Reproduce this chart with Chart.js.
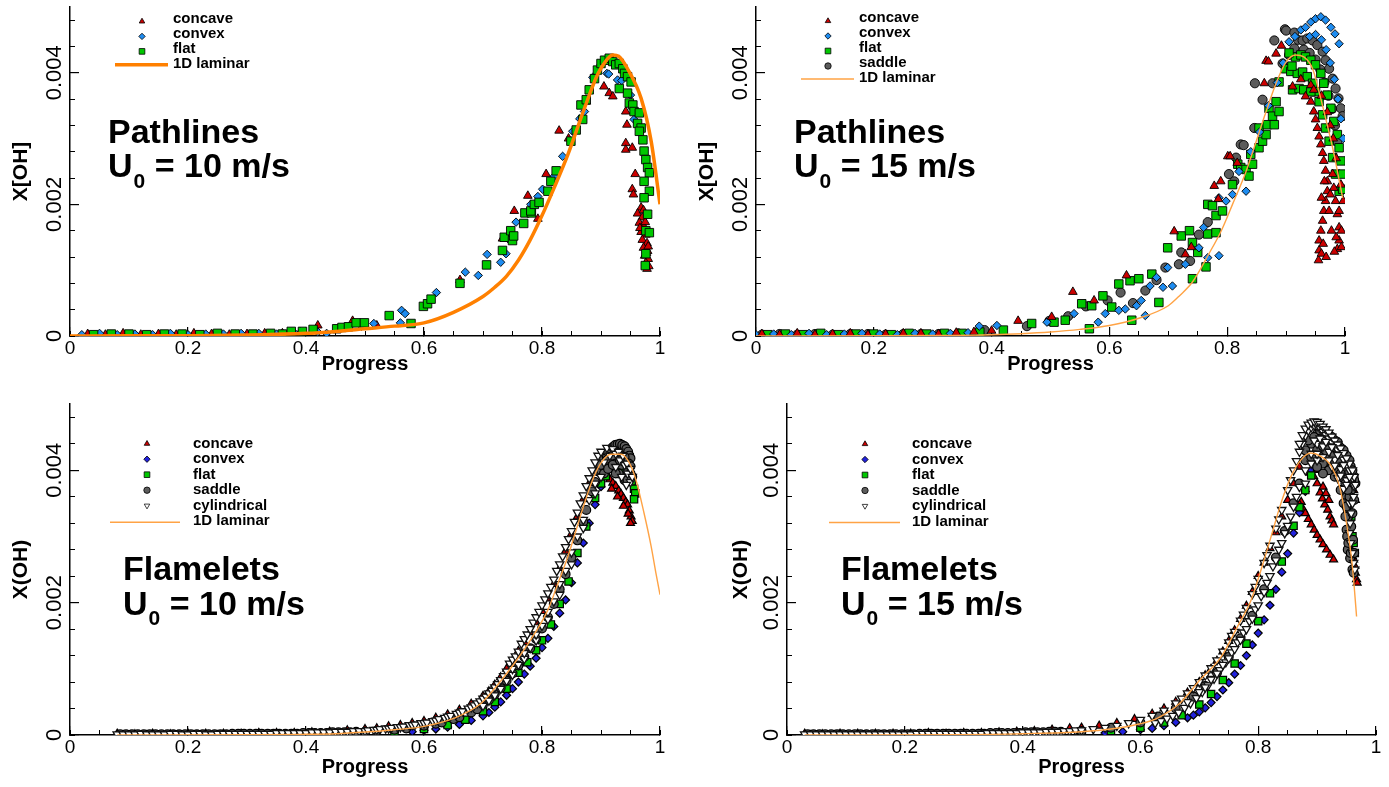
<!DOCTYPE html>
<html>
<head>
<meta charset="utf-8">
<title>X(OH) vs progress</title>
<script src="https://cdn.jsdelivr.net/npm/chart.js@4.4.1/dist/chart.umd.min.js"></script>
<style>
  html, body { margin: 0; padding: 0; background: #fff; }
  canvas { position: absolute; }
</style>
</head>
<body>
<canvas id="pathlines10" width="690" height="392" style="left:0;top:0"></canvas>
<canvas id="pathlines15" width="699" height="392" style="left:690px;top:0"></canvas>
<canvas id="flamelets10" width="690" height="392" style="left:0;top:395px"></canvas>
<canvas id="flamelets15" width="699" height="392" style="left:690px;top:395px"></canvas>
<script>
const FONT = "'Liberation Sans', Arial, Helvetica, sans-serif";
const OH_UNIT = 1e-4; // y values below are X(OH) in units of 1e-4

const X_TICKS = [0, 0.2, 0.4, 0.6, 0.8, 1];
const X_MINOR = [0, 0.05, 0.1, 0.15, 0.2, 0.25, 0.3, 0.35, 0.4, 0.45, 0.5, 0.55, 0.6, 0.65, 0.7, 0.75, 0.8, 0.85, 0.9, 0.95, 1];
const Y_TICKS = [0, 0.002, 0.004];
const Y_MINOR = [0, 0.0004, 0.0008, 0.0012, 0.0016, 0.002, 0.0024, 0.0028, 0.0032, 0.0036, 0.004, 0.0044, 0.0048];
const Y_MAX = 0.005;

// ---- Pathlines, U0 = 10 m/s ----
const P10_CONCAVE = [
  [0.03,0.3],[0.06,0.2],[0.09,0.4],[0.12,0.2],[0.15,0.3],[0.18,0.2],[0.21,0.4],[0.24,0.3],[0.27,0.2],[0.30,0.3],[0.33,0.4],[0.36,0.4],[0.39,0.6],
  [0.42,1.6],[0.479,2.3],[0.52,1.6],[0.661,8.5],[0.733,14.8],[0.753,19],[0.776,21.3],[0.793,17.8],[0.807,24.6],[0.829,31.2],[0.845,30],
  [0.875,35.6],[0.903,41.7],[0.905,37.9],[0.914,36.9],[0.92,36.4],[0.942,34.1],[0.944,32.1],[0.942,29.3],[0.942,28.3],[0.953,28.6],
  [0.958,24.6],[0.953,22.3],[0.955,21.5],[0.968,19.5],[0.962,18.6],[0.97,18.0],[0.965,17.2],[0.973,16.6],[0.968,15.8],[0.976,15.4],
  [0.97,14.6],[0.978,14.1],[0.972,13.4],[0.979,12.9],[0.974,12.2],[0.98,11.7],[0.976,11.1],[0.981,10.6],[0.978,10.2],[0.966,16.4],
  [0.975,17.3],[0.977,12.6],[0.972,19.1],[0.98,13.6]
];
const P10_CONVEX = [
  [0.02,0.2],[0.05,0.4],[0.08,0.2],[0.11,0.3],[0.14,0.2],[0.17,0.4],[0.20,0.2],[0.23,0.3],[0.26,0.3],[0.29,0.4],[0.32,0.4],[0.35,0.3],[0.38,0.5],
  [0.42,0.6],[0.435,0.4],[0.494,1.5],[0.515,1.9],[0.56,2.0],[0.562,3.9],[0.568,3.4],[0.621,6.6],[0.67,9.7],[0.692,9.2],[0.707,12.4],
  [0.73,11.2],[0.739,12.5],[0.742,14.8],[0.756,17.3],[0.781,20.0],[0.793,21.2],[0.801,22.3],[0.821,24.3],[0.835,27.3],[0.852,31.1],
  [0.864,33],[0.872,34.1],[0.886,39.3],[0.9,41.2],[0.91,39.9],[0.913,39.8],[0.928,38.9],[0.935,38.8],[0.95,36.6],[0.956,32.9]
];
const P10_FLAT = [
  [0.04,0.2],[0.07,0.3],[0.10,0.3],[0.13,0.2],[0.16,0.3],[0.19,0.3],[0.22,0.2],[0.25,0.4],[0.28,0.3],[0.31,0.3],[0.34,0.4],[0.36,0.3],
  [0.375,0.7],[0.394,0.7],[0.412,1.0],[0.452,1.1],[0.461,1.3],[0.472,1.4],[0.485,2.0],[0.499,2.0],[0.541,3.1],[0.578,1.9],[0.599,4.5],
  [0.606,4.9],[0.612,5.6],[0.661,8.0],[0.706,10.8],[0.733,13.0],[0.736,15],[0.747,16],[0.75,14.5],[0.752,15.2],[0.769,17.1],[0.771,18.7],
  [0.782,18.7],[0.781,19],[0.787,20],[0.795,20.3],[0.81,22],[0.815,23.5],[0.824,25.1],[0.849,29.6],[0.858,31.3],[0.866,35.1],[0.869,32.9],
  [0.875,35.9],[0.88,37.4],[0.889,39.1],[0.894,40.4],[0.9,41.4],[0.906,41.9],[0.914,42.2],[0.92,41.7],[0.925,41.2],[0.931,41.4],
  [0.937,40.6],[0.94,39.9],[0.945,39.4],[0.951,38.6],[0.931,37.6],[0.945,36.9],[0.948,35.4],[0.954,35.1],[0.956,34.1],[0.965,33.9],
  [0.962,32.3],[0.968,31.6],[0.965,31.1],[0.971,29.8],[0.973,28.1],[0.976,26.8],[0.979,25.6],[0.982,24.8],[0.973,23.5],[0.982,22],
  [0.973,21],[0.979,18.5],[0.976,16],[0.982,15.7],[0.976,12.5],[0.975,10.7]
];
const P10_LAMINAR = [
  [0,0],[0.1,0.02],[0.2,0.05],[0.3,0.15],[0.4,0.4],[0.45,0.7],[0.5,1.1],[0.55,1.5],[0.6,2.0],[0.65,3.6],[0.7,6.0],[0.72,7.4],
  [0.74,9.1],[0.76,11.5],[0.78,14.6],[0.8,18.3],[0.82,22.4],[0.844,27.6],[0.872,34.6],[0.894,39.7],[0.91,42],[0.92,42.7],[0.93,42.5],
  [0.945,40.6],[0.968,36.1],[0.985,29.6],[1,20]
];

// ---- Pathlines, U0 = 15 m/s ----
const P15_CONCAVE = [
  [0.01,0.3],[0.04,0.2],[0.07,0.4],[0.10,0.2],[0.13,0.3],[0.16,0.4],[0.19,0.2],[0.22,0.3],[0.25,0.4],[0.28,0.4],[0.31,0.3],[0.34,0.5],[0.37,0.6],[0.40,0.8],
  [0.445,2.3],[0.502,2.9],[0.538,6.7],[0.574,5.4],[0.629,9.2],[0.71,15.9],[0.729,12.4],[0.739,13.5],[0.778,22.8],[0.785,20.8],[0.789,23.5],
  [0.801,27.3],[0.805,27.3],[0.817,26.3],[0.863,38.4],[0.866,41.8],[0.87,41.7],[0.883,42.9],[0.892,44.1],[0.911,37.9],[0.925,39],
  [0.942,38.1],[0.947,37.4],[0.933,36.4],[0.942,35.6],[0.947,34.1],[0.95,32.9],[0.953,31.6],[0.956,30.3],[0.959,29.1],[0.962,27.8],
  [0.964,26.6],[0.967,25.1],[0.97,23.5],[0.97,22.0],[0.967,20.5],[0.964,19.0],[0.962,17.5],[0.959,16.0],[0.956,14.5],[0.956,13.0],
  [0.955,11.5],[0.979,24.6],[0.981,22.5],[0.984,20.5],[0.987,18.5],[0.99,16.5],[0.99,14.5],[0.987,13.2],[0.994,13.5],[0.994,16],
  [0.997,20.5],[0.993,23],[0.985,27],[0.98,30],[0.975,32],[0.97,34],[0.96,36.5],[0.96,21],[0.965,23.5],[0.973,19],[0.977,16],
  [0.963,14],[0.96,12.5],[0.982,12.8],[0.975,21.5],[0.985,15],[0.968,12],[0.99,19]
];
const P15_CONVEX = [
  [0.00,0.2],[0.03,0.3],[0.06,0.2],[0.09,0.4],[0.12,0.2],[0.15,0.3],[0.18,0.4],[0.21,0.3],[0.24,0.2],[0.27,0.4],[0.30,0.3],[0.33,0.4],[0.36,0.5],
  [0.379,1.5],[0.409,1.6],[0.494,2.1],[0.54,3.4],[0.581,2.1],[0.593,3.4],[0.616,3.9],[0.627,4.1],[0.646,4.6],[0.654,5.4],[0.661,3.1],
  [0.669,7.6],[0.68,8.9],[0.691,7.4],[0.699,10.4],[0.707,7.6],[0.729,10.9],[0.752,13.4],[0.76,16.5],[0.767,11.9],[0.786,12.2],[0.786,21],
  [0.798,20.5],[0.809,21.5],[0.832,22.0],[0.82,25],[0.84,28],[0.855,31],[0.87,35],[0.885,38.5],[0.895,41.5],[0.905,44.7],[0.915,45.5],
  [0.925,46.5],[0.933,46.9],[0.942,47.7],[0.95,48.2],[0.959,48.5],[0.967,48.0],[0.976,46.9],[0.983,45.9],[0.99,44.4],
  [0.94,45.5],[0.95,45.8],[0.96,45],[0.968,43.5],[0.975,41.5],[0.982,39],[0.988,36],[0.993,33],[0.997,30]
];
const P15_FLAT = [
  [0.02,0.2],[0.05,0.3],[0.08,0.2],[0.11,0.4],[0.14,0.2],[0.17,0.3],[0.20,0.3],[0.23,0.2],[0.26,0.4],[0.29,0.3],[0.32,0.4],[0.35,0.4],[0.38,0.6],[0.42,0.9],
  [0.468,1.9],[0.506,2.1],[0.525,2.4],[0.553,4.9],[0.566,1.1],[0.57,4.6],[0.589,6.1],[0.604,4.4],[0.616,7.9],[0.635,8.4],[0.638,2.4],
  [0.65,8.7],[0.672,9.4],[0.684,5.1],[0.699,13.4],[0.722,15.2],[0.736,16],[0.741,14.2],[0.741,8.7],[0.75,12.7],[0.764,10.5],
  [0.767,15.5],[0.767,20],[0.775,19.8],[0.781,18.3],[0.781,15.7],[0.792,19],[0.809,23],[0.818,26.1],[0.823,25.6],[0.832,25.3],
  [0.837,24.3],[0.84,27.6],[0.843,26.1],[0.854,28.6],[0.854,31.6],[0.86,29.6],[0.866,30.6],[0.868,32.1],[0.871,34.6],[0.877,33.4],
  [0.88,32.1],[0.883,35.6],[0.888,34.1],[0.888,38.6],[0.899,40.6],[0.908,40.2],[0.919,39.9],[0.928,40.1],[0.936,39.4],[0.945,38.4],
  [0.95,37.1],[0.956,35.6],[0.962,33.6],[0.967,31.6],[0.973,29.6],[0.979,27.1],[0.984,24.6],[0.99,22.0],[0.916,42.4],[0.925,42.7],
  [0.933,42.4],[0.942,41.9],[0.95,41.2],[0.959,39.9],[0.964,38.4],[0.97,36.6],[0.976,34.6],[0.981,32.6],[0.987,30.6],[0.99,28.6],
  [0.993,26.6],[0.996,24.6],[0.996,22.3],[0.911,37.4],[0.922,37.6],[0.93,37.4],[0.942,37.1],[0.905,43],[0.91,41]
];
const P15_SADDLE = [
  [0.01,0.2],[0.04,0.3],[0.07,0.2],[0.10,0.3],[0.13,0.2],[0.16,0.3],[0.19,0.3],[0.22,0.2],[0.25,0.3],[0.28,0.3],[0.31,0.3],[0.343,0.4],[0.388,0.9],
  [0.46,1.5],[0.498,2.3],[0.53,3],[0.56,4.5],[0.597,5.4],[0.619,6.6],[0.64,5],[0.661,6.9],[0.68,8.5],[0.695,10.4],[0.718,10.9],
  [0.722,12.7],[0.737,11.4],[0.752,15.4],[0.767,17.3],[0.803,24.6],[0.812,23.5],[0.815,27.1],[0.823,29.1],[0.828,29],[0.846,31.6],
  [0.847,38.4],[0.86,35.9],[0.877,38.4],[0.88,44.9],[0.894,41.4],[0.898,46.6],[0.9,46.4],[0.905,42.7],[0.914,43.7],[0.914,46.1],
  [0.92,45],[0.928,44.9],[0.936,45.2],[0.945,44.9],[0.953,44.2],[0.962,43.2],[0.967,41.9],[0.973,40.6],[0.979,39.1],[0.984,37.6],
  [0.989,36.1],[0.993,34.6],[0.996,33.4],[0.93,43.5],[0.94,43],[0.95,42],[0.958,40.5],[0.965,38.5],[0.972,36.5],[0.978,34.5],[0.983,32],[0.987,29.5]
];
const P15_LAMINAR = [
  [0,0],[0.2,0.03],[0.3,0.08],[0.4,0.2],[0.45,0.35],[0.5,0.6],[0.55,1.0],[0.6,1.6],[0.65,2.7],[0.7,4.6],[0.72,6.2],[0.741,8.2],[0.769,12.5],
  [0.79,16],[0.809,20],[0.832,25],[0.849,29.5],[0.863,33.3],[0.883,38.4],[0.899,41.5],[0.916,42.7],[0.93,42.4],[0.945,40.6],
  [0.956,37.1],[0.967,33.1],[0.979,28.6],[0.987,25.1],[0.996,21]
];

// ---- Flamelets, U0 = 10 m/s ----
const F10_CONCAVE = [
  [0.08,0.2],[0.11,0.1],[0.14,0.2],[0.17,0.1],[0.20,0.2],[0.23,0.2],[0.26,0.2],[0.29,0.2],[0.32,0.3],[0.35,0.3],[0.38,0.3],[0.41,0.4],[0.44,0.5],[0.47,0.7],
  [0.5,0.9],[0.52,1.0],[0.54,1.3],[0.56,1.5],[0.58,1.8],[0.6,2.1],[0.62,2.6],[0.64,3.1],[0.66,3.8],[0.68,4.7],[0.7,5.9],[0.71,6.6],
  [0.72,7.6],[0.73,8.7],[0.74,10],[0.75,11.2],[0.76,12.7],[0.77,14],[0.78,15.5],[0.79,17],[0.8,18.7],[0.81,20.6],[0.82,22.8],[0.83,25.2],
  [0.84,27.8],[0.85,30.4],[0.86,33],[0.87,35.6],[0.88,38],[0.89,39.8],[0.9,40.5],[0.905,39.8],[0.91,39.4],[0.915,38.6],[0.92,38.1],
  [0.925,37.6],[0.93,36.9],[0.934,36.4],[0.938,35.8],[0.942,35.2],[0.945,34.8],[0.948,33.9],[0.951,33],[0.953,32.3],[0.918,37.2],
  [0.928,36],[0.938,34.6],[0.946,33.4],[0.95,32]
];
const F10_CONVEX = [
  [0.09,0.1],[0.13,0.1],[0.17,0.1],[0.21,0.1],[0.25,0.1],[0.29,0.1],[0.33,0.1],[0.37,0.1],[0.41,0.1],
  [0.45,0.1],[0.5,0.2],[0.55,0.4],[0.58,0.5],[0.6,0.7],[0.62,0.9],[0.64,1.2],[0.66,1.6],[0.68,2.2],[0.7,2.9],[0.71,3.4],[0.72,4.2],
  [0.73,5.0],[0.74,6.0],[0.75,7.0],[0.76,8.0],[0.77,9.2],[0.78,10.4],[0.79,11.6],[0.8,13.2],[0.81,14.6],[0.82,16.4],[0.83,18.4],
  [0.84,20.4],[0.85,23],[0.86,26],[0.87,29],[0.88,32],[0.89,34.8],[0.9,37.5],[0.91,40],[0.92,42],[0.93,43.4],[0.94,43.5],[0.945,42.8],[0.948,42.5]
];
const F10_FLAT = [
  [0.10,0.1],[0.14,0.1],[0.18,0.1],[0.22,0.1],[0.26,0.1],[0.30,0.1],[0.34,0.2],[0.38,0.2],[0.42,0.2],[0.46,0.3],[0.5,0.3],
  [0.55,0.5],[0.6,0.9],[0.64,1.5],[0.67,2.3],[0.7,3.6],[0.72,5],[0.74,7],[0.76,9.4],[0.775,11],[0.79,12.8],[0.8,14.3],[0.815,16.7],
  [0.83,19.8],[0.845,23.2],[0.86,27.5],[0.875,31.5],[0.89,35.8],[0.9,38],[0.908,39.1],[0.915,40.3],[0.925,40.6],[0.935,40.2],
  [0.945,39.3],[0.952,38.3],[0.956,37.2],[0.958,36.5],[0.956,35.6]
];
const F10_SADDLE = [
  [0.085,0.1],[0.095,0.1],[0.105,0.1],[0.115,0.1],[0.125,0.1],[0.135,0.1],[0.145,0.1],[0.155,0.1],[0.165,0.1],[0.175,0.1],[0.185,0.1],
  [0.195,0.1],[0.205,0.1],[0.215,0.1],[0.225,0.1],[0.235,0.1],[0.245,0.1],[0.255,0.1],[0.265,0.1],[0.275,0.2],[0.285,0.2],[0.295,0.2],
  [0.305,0.2],[0.315,0.2],[0.325,0.2],[0.335,0.2],[0.345,0.2],[0.355,0.2],[0.365,0.2],[0.375,0.2],[0.385,0.2],[0.395,0.3],[0.405,0.3],
  [0.415,0.3],[0.425,0.3],[0.435,0.3],[0.445,0.4],[0.455,0.4],[0.465,0.4],[0.475,0.4],[0.485,0.5],
  [0.5,0.5],[0.52,0.6],[0.55,0.8],[0.57,1.0],[0.6,1.4],[0.62,1.7],[0.63,1.9],[0.65,2.4],[0.66,2.7],[0.68,3.4],[0.69,3.9],[0.7,4.6],
  [0.71,5.3],[0.72,6.2],[0.73,7.1],[0.74,8.2],[0.75,9.3],[0.76,10.5],[0.77,11.8],[0.78,13.1],[0.79,14.5],[0.8,16.1],[0.81,17.8],
  [0.82,19.8],[0.83,22],[0.84,24.3],[0.85,26.8],[0.86,29.4],[0.87,32.2],[0.875,34],[0.885,36.8],[0.89,38.2],[0.895,39.8],[0.9,40],
  [0.905,41.8],[0.91,42],[0.912,42.8],[0.917,43.2],[0.92,43.5],[0.924,43.8],[0.928,43.9],[0.932,44],[0.936,43.8],[0.94,43.6],
  [0.943,43.2],[0.946,42.8],[0.948,42.2],[0.95,41.8],[0.9,40.8],[0.91,41.5],[0.92,42.2],[0.93,42.6],[0.94,42],[0.947,41],[0.925,41],
  [0.935,40.8],[0.945,40],[0.915,40.5],[0.93,39.5],[0.94,38.5],[0.95,39.5],[0.905,39.5],[0.912,40.2],[0.92,40.8],[0.94,41.2],
  [0.95,40.6],[0.953,39],[0.932,41.5],[0.925,39.5],[0.945,38.5]
];
const F10_CYL = [
  [0.08,0.1],[0.09,0.1],[0.10,0.1],[0.11,0.1],[0.12,0.2],[0.13,0.1],[0.14,0.1],[0.15,0.1],[0.16,0.1],[0.17,0.2],[0.18,0.2],[0.19,0.1],
  [0.20,0.1],[0.21,0.2],[0.22,0.2],[0.23,0.1],[0.24,0.1],[0.25,0.2],[0.26,0.2],[0.27,0.2],[0.28,0.2],[0.29,0.2],[0.30,0.2],[0.31,0.2],
  [0.32,0.2],[0.33,0.2],[0.34,0.2],[0.35,0.3],[0.36,0.3],[0.37,0.3],[0.38,0.3],[0.39,0.3],[0.40,0.3],[0.41,0.4],[0.42,0.4],[0.43,0.4],
  [0.44,0.4],[0.45,0.5],[0.46,0.5],[0.47,0.5],[0.48,0.6],[0.49,0.6],
  [0.5,0.6],[0.505,0.7],[0.515,0.8],[0.52,0.8],[0.525,0.9],[0.535,1.0],[0.54,1.0],[0.545,1.1],[0.555,1.2],[0.56,1.2],[0.565,1.3],
  [0.575,1.5],[0.58,1.5],[0.585,1.6],[0.595,1.8],[0.6,1.8],[0.605,1.9],[0.615,2.1],[0.62,2.2],[0.625,2.4],[0.635,2.6],[0.64,2.8],
  [0.645,2.9],[0.655,3.2],[0.66,3.4],[0.665,3.6],[0.675,4.0],[0.68,4.2],[0.685,4.5],[0.69,4.8],[0.695,5.1],[0.7,5.5],[0.705,5.8],
  [0.71,6.3],[0.715,6.7],[0.72,7.2],[0.725,7.7],[0.73,8.3],[0.735,8.9],[0.74,9.6],[0.745,10.8],[0.75,11.4],[0.755,11.9],[0.76,12.6],
  [0.765,13.8],[0.77,14.5],[0.775,15.2],[0.78,16],[0.785,17],[0.79,17.8],[0.795,18.6],[0.8,19.6],[0.805,20.5],[0.81,21.4],[0.815,22.4],
  [0.82,23.5],[0.825,24.8],[0.83,25.8],[0.835,27],[0.84,28.4],[0.845,29.6],[0.85,30.8],[0.855,32.2],[0.86,33.6],[0.865,35],[0.87,36.2],
  [0.875,37.6],[0.88,38.8],[0.885,40],[0.89,41.2],[0.895,42.2],[0.9,42.8],[0.91,43.4],[0.92,43.2],
  [0.7,4.4],[0.71,5.2],[0.72,6],[0.73,7.0],[0.74,8.2],[0.75,9.1],[0.76,10.6],[0.77,11.5],[0.78,13.2],[0.79,14.3],[0.8,16.5],[0.81,17.5],
  [0.82,20.2],[0.83,21.2],[0.84,24.8],[0.85,25.8],[0.86,30],[0.87,31.3],[0.88,35.5],[0.89,36.5],[0.9,39],
  [0.75,10],[0.77,12.4],[0.79,15.2],[0.81,18.6],[0.83,22.8],[0.85,27.6],[0.87,32.5],[0.89,38],
  [0.905,41.2],[0.915,42.2],[0.925,42.5],[0.925,40.5],[0.93,42.8],[0.932,41.5],[0.937,42.2],[0.94,40.8],[0.944,41],[0.945,39.5],
  [0.95,40.2],[0.95,38.2],[0.953,39],[0.935,39],[0.943,37.8]
];
const F10_LAMINAR = [
  [0.08,0],[0.3,0.05],[0.39,0.1],[0.45,0.2],[0.5,0.45],[0.55,0.8],[0.6,1.3],[0.65,2.5],[0.697,4.8],[0.725,7.6],[0.753,10.8],[0.781,14.4],
  [0.81,18.9],[0.827,22.9],[0.844,27],[0.858,31],[0.872,35],[0.886,38.6],[0.9,41.1],[0.917,42.4],[0.934,42.4],[0.948,41.1],
  [0.959,38.6],[0.973,33.5],[0.985,28.5],[0.993,24.5],[1.0,21.2]
];

// ---- Flamelets, U0 = 15 m/s ----
const F15_CONCAVE = [
  [0.03,0.2],[0.06,0.1],[0.09,0.2],[0.12,0.2],[0.15,0.2],[0.18,0.2],[0.21,0.2],[0.24,0.3],[0.27,0.2],[0.30,0.3],[0.33,0.3],[0.36,0.4],
  [0.39,0.5],[0.42,0.6],[0.45,0.8],[0.48,1.0],
  [0.5,1.1],[0.53,1.4],[0.56,1.8],[0.59,2.4],[0.62,3.2],[0.64,4.0],[0.66,5.0],[0.68,6.4],[0.7,8.0],[0.71,9.0],[0.72,10],[0.73,11.2],
  [0.74,12.6],[0.75,14.2],[0.76,15.8],[0.77,17.5],[0.78,19.5],[0.79,21.6],[0.8,24],[0.81,26],[0.82,28.2],[0.83,30.6],[0.84,33],
  [0.85,35.5],[0.86,38],[0.87,40.5],
  [0.877,34],[0.88,33.5],[0.885,32.6],[0.89,31.8],[0.895,31],[0.9,30.2],[0.905,29.5],[0.91,28.8],[0.916,28],[0.922,27.2],[0.928,26.5],
  [0.873,35.2],[0.87,34.8],
  [0.888,39.6],[0.894,39.1],[0.9,38],[0.905,36.6],[0.909,35.7],[0.913,34.8],[0.918,34],[0.922,33],[0.925,32.4],[0.928,31.8],
  [0.897,40],[0.91,37.5],[0.915,36.5],[0.92,35.5],
  [0.962,37],[0.965,35.5],[0.955,31],[0.956,29],[0.958,28],[0.96,27],[0.962,26.5],[0.964,25.5],[0.965,24.5],[0.967,23.5],[0.968,23]
];
const F15_CONVEX = [
  [0.04,0.1],[0.08,0.1],[0.12,0.1],[0.16,0.1],[0.20,0.1],[0.24,0.1],[0.28,0.1],[0.32,0.1],[0.36,0.1],[0.40,0.1],
  [0.45,0.1],[0.5,0.2],[0.54,0.3],[0.57,0.5],[0.6,0.8],[0.62,1.0],[0.64,1.4],[0.66,1.9],[0.68,2.6],[0.69,3.0],[0.7,3.5],[0.71,4.1],
  [0.72,4.9],[0.73,5.8],[0.74,6.8],[0.75,7.9],[0.76,9.2],[0.77,10.5],[0.78,12],[0.79,13.6],[0.8,15.4],[0.81,17.4],[0.82,19.6],
  [0.83,22],[0.84,24.6],[0.85,27.4],[0.86,30.5],[0.87,33.6],[0.88,36.8],[0.89,40]
];
const F15_FLAT = [
  [0.05,0.1],[0.09,0.1],[0.13,0.1],[0.17,0.1],[0.21,0.1],[0.25,0.2],[0.29,0.2],[0.33,0.2],[0.37,0.2],[0.41,0.3],[0.45,0.3],[0.5,0.4],
  [0.55,0.6],[0.6,1.1],[0.64,1.9],[0.67,3],[0.7,4.6],[0.72,6.2],[0.74,8.3],[0.76,10.8],[0.78,13.8],[0.8,17.2],[0.82,21.4],[0.84,26.2],
  [0.86,31.6],[0.87,34.4],[0.88,37],[0.89,39.2],[0.9,40.5],[0.91,41.3],[0.93,41.6],[0.945,41.3],[0.95,41.1],[0.953,39],[0.956,36],
  [0.958,33],[0.96,30],[0.962,29],[0.964,27.5]
];
const F15_SADDLE = [
  [0.035,0.1],[0.045,0.1],[0.055,0.1],[0.065,0.1],[0.075,0.1],[0.085,0.1],[0.095,0.1],[0.105,0.1],[0.115,0.1],[0.125,0.1],[0.135,0.1],
  [0.145,0.1],[0.155,0.1],[0.165,0.1],[0.175,0.1],[0.185,0.1],[0.195,0.1],[0.205,0.1],[0.215,0.1],[0.225,0.2],[0.235,0.2],[0.245,0.2],
  [0.255,0.2],[0.265,0.2],[0.275,0.2],[0.285,0.2],[0.295,0.2],[0.305,0.2],[0.315,0.2],[0.325,0.2],[0.335,0.2],[0.345,0.3],[0.355,0.3],
  [0.365,0.3],[0.375,0.3],[0.385,0.3],[0.395,0.3],[0.405,0.4],[0.415,0.4],[0.425,0.4],[0.435,0.4],[0.445,0.5],[0.455,0.5],[0.465,0.5],
  [0.5,0.6],[0.55,1.1],[0.6,1.9],[0.63,2.8],[0.66,4],[0.69,5.8],[0.71,7.4],[0.73,9.4],[0.75,11.8],[0.77,14.6],[0.79,18],[0.81,22],
  [0.83,26.8],[0.845,30.8],[0.86,35],[0.87,38],[0.88,41.5],[0.89,44],[0.9,45.5],[0.91,45.8],[0.92,45.3],[0.93,44.5],[0.94,43.4],
  [0.95,42.2],[0.957,40.6],[0.962,39.1],[0.965,38],[0.9,43],[0.91,43.6],[0.92,43.3],[0.93,42.5],[0.94,41.6],[0.95,40],[0.955,37.5],
  [0.952,34],[0.95,31],[0.952,28],[0.956,26.7],[0.96,25],[0.91,41],[0.925,40.8],[0.935,40],[0.945,38.8],[0.95,36],
  [0.88,43],[0.885,44.5],[0.895,45],[0.905,46],[0.915,45.6],[0.925,45],[0.935,44.2],[0.945,43],[0.955,41.5],[0.96,40],[0.963,38.5],
  [0.958,37],[0.955,36],[0.953,33],[0.951,30],[0.953,29],[0.957,27.5],[0.962,24.5],[0.945,40.5],[0.935,41.5],[0.925,42.2],
  [0.915,42.5],[0.905,42],[0.94,39.5],[0.948,38],[0.952,37],[0.94,37],[0.93,39],[0.92,40],[0.91,39.5],[0.9,40.5],[0.89,42],
  [0.945,35],[0.948,33],[0.95,34.5],[0.958,31.5],[0.961,29.5],[0.963,27.5],[0.96,33.5],[0.963,35.5],[0.958,38.5]
];
const F15_CYL = [
  [0.03,0.1],[0.04,0.1],[0.05,0.1],[0.06,0.1],[0.07,0.1],[0.08,0.1],[0.09,0.1],[0.10,0.1],[0.11,0.1],[0.12,0.1],[0.13,0.1],[0.14,0.1],
  [0.15,0.1],[0.16,0.1],[0.17,0.1],[0.18,0.1],[0.19,0.1],[0.20,0.1],[0.21,0.1],[0.22,0.2],[0.23,0.2],[0.24,0.2],[0.25,0.2],[0.26,0.2],
  [0.27,0.2],[0.28,0.2],[0.29,0.2],[0.30,0.2],[0.31,0.2],[0.32,0.2],[0.33,0.2],[0.34,0.3],[0.35,0.3],[0.36,0.3],[0.37,0.3],[0.38,0.3],
  [0.39,0.3],[0.40,0.4],[0.41,0.4],[0.42,0.4],[0.43,0.4],[0.44,0.5],[0.45,0.5],[0.46,0.5],[0.47,0.6],[0.48,0.6],[0.49,0.7],
  [0.5,0.7],[0.52,0.9],[0.54,1.1],[0.56,1.4],[0.58,1.8],[0.6,2.3],[0.62,2.9],[0.625,1.8],[0.635,2.1],[0.64,3.7],[0.645,2.5],
  [0.655,2.9],[0.66,4.8],[0.665,3.4],[0.67,5.5],[0.675,4.1],[0.68,6.3],[0.685,4.8],[0.69,7.1],[0.695,5.6],[0.7,8.0],[0.705,6.5],
  [0.71,9],[0.715,7.5],[0.72,10.1],[0.725,8.5],[0.73,11.3],[0.735,9.8],[0.74,12.6],[0.745,11],[0.75,14],[0.755,15],[0.755,12.5],
  [0.76,15.6],[0.765,14],[0.77,17.3],[0.775,18.2],[0.775,15.5],[0.78,19.2],[0.785,17.2],[0.79,21.3],[0.795,22.4],[0.795,19],
  [0.8,23.6],[0.805,21],[0.81,26],[0.815,27.2],[0.815,23],[0.82,28.6],[0.825,25.5],[0.83,31.2],[0.835,32.6],[0.835,28],[0.84,34],
  [0.845,30.5],[0.85,37],[0.855,38.5],[0.855,33],[0.86,40],[0.865,41.4],[0.865,36],[0.87,42.8],[0.875,44],[0.88,45.2],[0.885,46],
  [0.89,46.5],[0.895,46.8],[0.9,46.7],[0.905,46.3],[0.91,45.8],[0.915,45.3],[0.92,44.8],[0.925,44.2],[0.93,43.6],[0.935,43],
  [0.94,42.4],[0.945,41.6],[0.95,40.8],[0.955,40],[0.96,38.8],[0.963,37.6],
  [0.68,5],[0.7,6.5],[0.72,8.4],[0.74,10.6],[0.76,13],[0.78,16],[0.8,19.6],[0.82,24],[0.84,29],[0.86,34.5],[0.87,37.5],[0.88,40],
  [0.89,42.5],[0.9,44],[0.71,7.2],[0.73,9.3],[0.75,11.6],[0.77,14.4],[0.79,17.6],[0.81,21.6],[0.83,26.4],[0.85,31.6],[0.9,41.5],
  [0.91,43.6],[0.92,42.8],[0.93,41.6],[0.94,40.2],[0.95,38.5],[0.955,35],[0.945,37.2],[0.935,38.8],[0.925,40.5],
  [0.87,44],[0.875,45.3],[0.88,46.3],[0.885,46.9],[0.89,47.2],[0.895,47.4],[0.9,47.3],[0.905,47],[0.91,46.6],[0.915,46.2],
  [0.92,45.7],[0.925,45.1],[0.93,44.5],[0.935,43.9],[0.94,43.3],[0.945,42.6],[0.95,41.8],[0.955,41],[0.96,40],[0.963,39],[0.965,37.8],
  [0.962,36],[0.96,35],[0.958,33.5],[0.956,32],[0.955,30.5],[0.957,29],[0.96,27.5],[0.962,26],[0.964,25],[0.895,44.5],[0.905,44.8],
  [0.915,44.3],[0.925,43.5],[0.935,42.3],[0.945,40.8],[0.955,39],[0.91,42],[0.92,41.5],[0.93,40.7],[0.94,39.2],[0.95,37.8],[0.9,42.5],
  [0.89,41],[0.88,38]
];
const F15_LAMINAR = [
  [0.03,0],[0.3,0.05],[0.4,0.2],[0.5,0.5],[0.55,0.9],[0.6,1.7],[0.63,2.6],[0.667,4.8],[0.701,8.3],[0.737,11.8],[0.765,16.4],
  [0.788,20.4],[0.805,25],[0.822,30],[0.839,35.1],[0.856,39.1],[0.873,41.6],[0.889,42.6],[0.906,42.1],[0.924,40.6],[0.938,37.6],
  [0.949,32.5],[0.958,27],[0.963,22.4],[0.967,17.9]
];

// ---- styles ----
const RED = '#cc0000', BLUE_LIGHT = '#1e8cf0', BLUE_DARK = '#2222dd', GREEN = '#00c800', GRAY = '#5c5c5c';
const ORANGE_THICK = '#ff8000', ORANGE_THIN = '#ffa345';

function scatter(label, data, style, fill, r, order, extra) {
  return Object.assign({
    label: label,
    data: data.map(p => ({ x: p[0], y: p[1] * OH_UNIT })),
    showLine: false,
    pointStyle: style,
    pointRadius: r,
    pointBackgroundColor: fill,
    pointBorderColor: '#000',
    pointBorderWidth: 0.9,
    legendRadius: 3.2,
    order: order,
    xAxisID: 'x', yAxisID: 'y'
  }, extra || {});
}
function laminar(data, color, width) {
  return {
    label: '1D laminar',
    data: data.map(p => ({ x: p[0], y: p[1] * OH_UNIT })),
    showLine: true,
    pointRadius: 0,
    borderColor: color,
    borderWidth: width,
    cubicInterpolationMode: 'monotone',
    order: 0,
    xAxisID: 'x', yAxisID: 'y'
  };
}

const setTicks = list => axis => { axis.ticks = list.map(v => ({ value: v })); };

function makeScales(g, yTitle) {
  return {
    x: {
      type: 'linear', min: 0, max: 1, position: 'bottom', weight: 1,
      afterBuildTicks: setTicks(X_TICKS),
      afterFit: s => { s.height = g.xH; s.paddingLeft = 0; s.paddingRight = 0; },
      grid: { drawOnChartArea: false, tickLength: -9, color: '#000', lineWidth: 1.2 },
      border: { color: '#000', width: 1.5 },
      ticks: { autoSkip: false, maxRotation: 0, padding: 10, color: '#000',
               font: { family: FONT, size: 19 }, callback: v => String(v) },
      title: { display: true, text: 'Progress', color: '#000',
               font: { family: FONT, size: 20, weight: 'bold' }, padding: { top: 0, bottom: g.xTitlePad } }
    },
    xMinor: {
      type: 'linear', axis: 'x', min: 0, max: 1, position: 'bottom', weight: 0,
      afterBuildTicks: setTicks(X_MINOR),
      afterFit: s => { s.height = 0; s.paddingLeft = 0; s.paddingRight = 0; },
      grid: { drawOnChartArea: false, tickLength: -5, color: '#000', lineWidth: 1 },
      border: { display: false },
      ticks: { display: false }
    },
    y: {
      type: 'linear', min: 0, max: Y_MAX, position: 'left', weight: 1,
      afterBuildTicks: setTicks(Y_TICKS),
      afterFit: s => { s.width = g.yW; s.paddingTop = 0; s.paddingBottom = 0; },
      grid: { drawOnChartArea: false, tickLength: -9, color: '#000', lineWidth: 1.2 },
      border: { color: '#000', width: 1.5 },
      ticks: { autoSkip: false, minRotation: 90, maxRotation: 90, crossAlign: 'center', padding: -3,
               color: '#000', font: { family: FONT, size: 22 }, callback: v => String(v) },
      title: { display: true, text: yTitle, color: '#000',
               font: { family: FONT, size: 21, weight: 'bold' }, padding: { top: g.yTitlePad, bottom: 0 } }
    },
    yMinor: {
      type: 'linear', axis: 'y', min: 0, max: Y_MAX, position: 'left', weight: 0,
      afterBuildTicks: setTicks(Y_MINOR),
      afterFit: s => { s.width = 0; s.paddingTop = 0; s.paddingBottom = 0; },
      grid: { drawOnChartArea: false, tickLength: -5, color: '#000', lineWidth: 1 },
      border: { display: false },
      ticks: { display: false }
    }
  };
}

function decor(t) {
  return {
    id: 'decor',
    afterDraw(chart) {
      const ctx = chart.ctx;
      ctx.save();
      ctx.fillStyle = '#000';
      ctx.textAlign = 'left';
      ctx.textBaseline = 'alphabetic';
      ctx.font = 'bold 34px ' + FONT;
      ctx.fillText(t.name, t.x, t.y1);
      ctx.fillText('U', t.x, t.y2);
      let x = t.x + ctx.measureText('U').width + 1;
      ctx.font = 'bold 21px ' + FONT;
      ctx.fillText('0', x, t.ySub);
      x += ctx.measureText('0').width;
      ctx.font = 'bold 34px ' + FONT;
      ctx.fillText(' = ' + t.speed, x, t.y2);

      ctx.font = 'bold 15px ' + FONT;
      chart.data.datasets.forEach((ds, i) => {
        const by = t.legY + i * t.legDy;
        ctx.fillStyle = '#000';
        ctx.fillText(ds.label, t.legText, by);
        if (ds.showLine) {
          ctx.strokeStyle = ds.borderColor;
          ctx.lineWidth = ds.borderWidth;
          ctx.beginPath();
          ctx.moveTo(t.lineX1, by - 3);
          ctx.lineTo(t.lineX2, by - 3);
          ctx.stroke();
        } else {
          ctx.fillStyle = ds.pointBackgroundColor;
          ctx.strokeStyle = ds.pointBorderColor;
          ctx.lineWidth = 0.8;
          Chart.helpers.drawPoint(ctx, {
            pointStyle: ds.pointStyle, rotation: ds.pointRotation || 0,
            radius: ds.legendRadius, borderWidth: 0.8
          }, t.legMark, by + t.markDy);
        }
      });
      ctx.restore();
    }
  };
}

function panel(id, g, yTitle, datasets, text) {
  return new Chart(document.getElementById(id), {
    type: 'scatter',
    data: { datasets: datasets },
    options: {
      responsive: false,
      animation: false,
      events: [],
      layout: { padding: { left: 0, top: g.padT, right: g.padR, bottom: 0 } },
      plugins: { legend: { display: false }, tooltip: { enabled: false } },
      scales: makeScales(g, yTitle)
    },
    plugins: [decor(text)]
  });
}

const THICK = { pointBorderWidth: 1.2 };

panel('pathlines10',
  { yW: 70, padR: 30, padT: 5, xH: 56, yTitlePad: 9, xTitlePad: 16 }, 'X[OH]',
  [
    scatter('concave', P10_CONCAVE, 'triangle', RED, 5, 3),
    scatter('convex', P10_CONVEX, 'rectRot', BLUE_LIGHT, 4.2, 2),
    scatter('flat', P10_FLAT, 'rect', GREEN, 6, 1, { legendRadius: 4 }),
    laminar(P10_LAMINAR, ORANGE_THICK, 3.5)
  ],
  { name: 'Pathlines', speed: '10 m/s', x: 108, y1: 143, y2: 177, ySub: 188,
    legMark: 142, legText: 173, legY: 22.7, legDy: 15, markDy: -1.3, lineX1: 115, lineX2: 168 });

panel('pathlines15',
  { yW: 66, padR: 44, padT: 5, xH: 56, yTitlePad: 5, xTitlePad: 16 }, 'X[OH]',
  [
    scatter('concave', P15_CONCAVE, 'triangle', RED, 5, 1),
    scatter('convex', P15_CONVEX, 'rectRot', BLUE_LIGHT, 4.2, 2),
    scatter('flat', P15_FLAT, 'rect', GREEN, 6, 3, { legendRadius: 4 }),
    scatter('saddle', P15_SADDLE, 'circle', GRAY, 4.6, 4),
    laminar(P15_LAMINAR, ORANGE_THIN, 1.4)
  ],
  { name: 'Pathlines', speed: '15 m/s', x: 104, y1: 143, y2: 177, ySub: 188,
    legMark: 138, legText: 169, legY: 22, legDy: 15, markDy: -1, lineX1: 111, lineX2: 164 });

panel('flamelets10',
  { yW: 70, padR: 30, padT: 9, xH: 52, yTitlePad: 9, xTitlePad: 8 }, 'X(OH)',
  [
    scatter('concave', F10_CONCAVE, 'triangle', RED, 4.6, 5, THICK),
    scatter('convex', F10_CONVEX, 'rectRot', BLUE_DARK, 4, 4, THICK),
    scatter('flat', F10_FLAT, 'rect', GREEN, 5.2, 3, { legendRadius: 4, pointBorderWidth: 1.2 }),
    scatter('saddle', F10_SADDLE, 'circle', GRAY, 4.4, 2, THICK),
    scatter('cylindrical', F10_CYL, 'triangle', '#ffffff', 4.8, 1, { pointRotation: 180, pointBorderColor: '#111', pointBorderWidth: 1.3 }),
    laminar(F10_LAMINAR, ORANGE_THIN, 1.4)
  ],
  { name: 'Flamelets', speed: '10 m/s', x: 123, y1: 185, y2: 220, ySub: 230,
    legMark: 147, legText: 193, legY: 52.7, legDy: 15.5, markDy: -4, lineX1: 110, lineX2: 180 });

panel('flamelets15',
  { yW: 97, padR: 13, padT: 9, xH: 52, yTitlePad: 39, xTitlePad: 8 }, 'X(OH)',
  [
    scatter('concave', F15_CONCAVE, 'triangle', RED, 4.6, 5, THICK),
    scatter('convex', F15_CONVEX, 'rectRot', BLUE_DARK, 4, 4, THICK),
    scatter('flat', F15_FLAT, 'rect', GREEN, 5.2, 3, { legendRadius: 4, pointBorderWidth: 1.2 }),
    scatter('saddle', F15_SADDLE, 'circle', GRAY, 4.4, 2, THICK),
    scatter('cylindrical', F15_CYL, 'triangle', '#ffffff', 4.8, 1, { pointRotation: 180, pointBorderColor: '#111', pointBorderWidth: 1.3 }),
    laminar(F15_LAMINAR, ORANGE_THIN, 1.4)
  ],
  { name: 'Flamelets', speed: '15 m/s', x: 151, y1: 185, y2: 220, ySub: 230,
    legMark: 175, legText: 222, legY: 53, legDy: 15.5, markDy: -4, lineX1: 139, lineX2: 210 });
</script>
</body>
</html>
